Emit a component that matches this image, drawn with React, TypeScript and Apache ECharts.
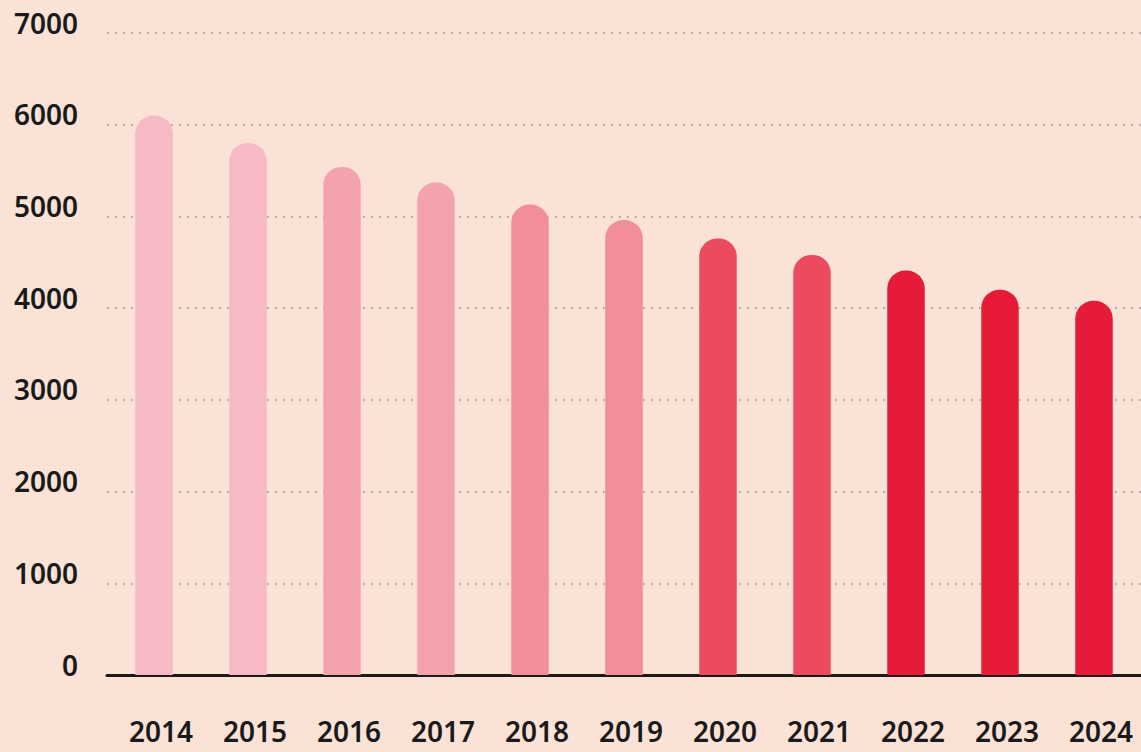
import React, { useEffect, useRef } from "react";
import * as echarts from "echarts";

const years = ["2014", "2015", "2016", "2017", "2018", "2019", "2020", "2021", "2022", "2023", "2024"];
const values = [6100, 5800, 5540, 5370, 5130, 4960, 4760, 4580, 4410, 4200, 4080];
const barColors = [
  "#F7BAC4", "#F7BAC4", "#F5A2AF", "#F5A2AF", "#F28D9C", "#F28D9C",
  "#EC4A5F", "#EC4A5F", "#E51B38", "#E51B38", "#E51B38",
];

export default function App() {
  const ref = useRef<HTMLDivElement>(null);
  useEffect(() => {
    document.body.style.margin = "0";
    const chart = echarts.init(ref.current!, null, { renderer: "svg" });
    chart.setOption({
      animation: false,
      backgroundColor: "#FBE2D6",
      grid: { left: 107, right: 0, top: 33, bottom: 77, containLabel: false },
      xAxis: {
        type: "category",
        data: years,
        axisLine: { show: true, lineStyle: { color: "#1a1a1a", width: 3 } },
        axisTick: { show: false },
        axisLabel: {
          color: "#1a1a1a",
          fontFamily: "Noto Sans",
          fontWeight: 600,
          fontSize: 28,
          lineHeight: 22,
          margin: 45,
          padding: [0, 0, 0, 14],
        },
      },
      yAxis: {
        type: "value",
        min: 0,
        max: 7000,
        interval: 1000,
        axisLine: { show: false },
        axisTick: { show: false },
        splitLine: {
          show: true,
          lineStyle: { color: "#8a8580", width: 1.5, type: [1.5, 6.5] },
        },
        axisLabel: {
          color: "#1a1a1a",
          fontFamily: "Noto Sans",
          fontWeight: 600,
          fontSize: 28,
          margin: 29,
          verticalAlign: "bottom",
          lineHeight: 21,
          formatter: (v: number) => String(v),
        },
      },
      series: [
        {
          type: "bar",
          data: values.map((v, i) => ({ value: v, itemStyle: { color: barColors[i] } })),
          barWidth: 37.5,
          itemStyle: { borderRadius: [18, 18, 0, 0] },
        },
      ],
    });
    return () => chart.dispose();
  }, []);
  return (
    <div
      ref={ref}
      style={{ position: "absolute", left: 0, top: 0, width: 1141, height: 752 }}
    />
  );
}
